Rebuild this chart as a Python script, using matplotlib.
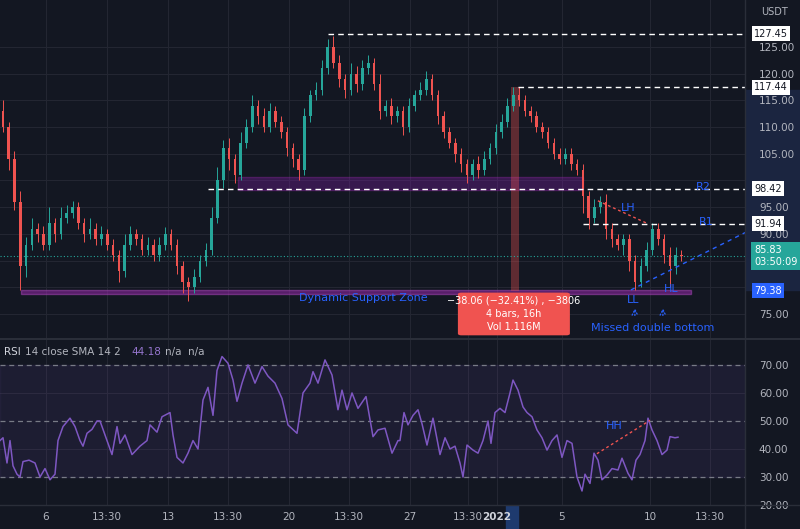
import matplotlib
matplotlib.use("Agg")
import matplotlib.pyplot as plt
from matplotlib.patches import Rectangle, FancyBboxPatch

# ---- data ----
closes = [110,104,96,84,88,91,90,88,92,90,93,94,95,92,90,91,89,90,88,86,
          83,88,90,89,87,88,86,88,90,88,84,81,80,82,85,87,93,100,106,104,
          101,107,110,114,112,110,113,111,109,106,104,102,112,116,117,121,125,122,119,117,
          120,118,121,122,118,113,114,112,113,110,114,116,117,119,116,112,109,107,105,103,
          101,103,102,104,106,109,111,114,116,115,113,112,110,109,107,105,104,105,103,102,
          97,93,95,96,91,89,88,89,85,81,84,87,91,89,86,84,86,85.83]
first_open = 113
upw = [2,1,1.5,2,1.5,2,1,1.5,3,1,2,1.5,1.2,1,1,2,1,1.5,1,1,
       1,2,1.5,1,1,1.5,1,1.5,1.2,1,1,1,1,1.5,1,1.2,2,2.5,1.5,2,
       1,2,1.5,2,1,1.5,1.5,1,1,1,1,1,1.5,1,1.5,1.5,1.45,2,1.5,1,
       2,1.5,1.5,1.5,1,2,1,1.5,1,1,1.5,1,1.5,1.5,1,1,1,1,1,1,
       1,1,1.5,1.5,1,1.5,1.5,1.5,1.44,1.5,1,1,1,1,1,1,1,1,1,1,
       1,1,1.5,1,1.5,1,1,1,1,1,1.5,1.5,1,1,1,1.5,1.5,1]
dnw = [1,2,1.5,4.5,2,1,1.5,1,1,1.5,1,1,1,1,1.5,1,1,1,1,1,
       2,1,1,1,1,1,1,1,1,1,1.5,2,2.5,1,1,1,1,1,1.5,2,
       1.5,1,1,1,1.5,1,1,1,1,1.5,1.5,2,1,1,1,1,1,1,1.5,1.5,
       1,1.5,1,1,1,1.5,1,1.5,1,1.5,1,1,1,1,1,1.5,1,1,1.5,1.5,
       1.5,1,1.5,1,1,1,1,1,1,1,1,1,1,1,1,1,1,1,1,1,
       3,2,1,1,2,1.5,1,2,2,1.6,1,1,1,1,1.5,4,1.5,1]

rsi_px = [0,3,7,10,13,17,20,23,29,35,40,45,50,55,58,63,70,75,80,83,87,92,97,100,107,112,117,120,125,132,
          140,147,150,157,162,170,173,177,183,188,193,198,203,208,213,217,222,228,233,237,242,248,255,262,268,275,282,288,297,303,
          310,313,318,325,332,338,342,347,352,358,366,373,378,385,392,398,400,404,408,413,418,422,427,433,440,445,450,455,460,463,
          467,473,478,483,488,491,495,500,505,510,513,518,523,527,532,537,542,547,552,557,562,567,572,577,582,585,590,594,598,602,
          607,612,618,622,628,632,636,640,645,648,652,657,662,667,670,675,678]
rsi_val = [43,44,35,43,34,31,30,35.5,36,35,30,33,29,31,43,48,51,48,43,41,45.6,47,50,50,43,38,48,42,45,38,
           41,43,48.6,46,51.5,53,45,37,35,38.5,43,40,57.5,62,52,68,73,70.6,64.6,57,63.5,70,63.5,69.4,66,63.5,58,48.6,45.6,60,
           63.5,67.6,63.5,71.8,66.4,54,61,54,60,54.5,58.7,44.4,46.8,47.4,38.5,43,43,53,48.6,52,54,49,41.4,51,38,44,40,41,35,30,
           41.4,39.6,38.5,43,50,42,53,54.5,53,60,64.6,61,55,53,51.5,46.8,44,39.6,43,45,37,43,42,30,25,31,27.7,38.5,36,29,
           30.7,33,32.5,36.7,31.3,29,36,38,43,51,46.8,43,38,39.6,44.4,44,44.2]

price_ticks = [75, 90, 95, 105, 110, 115, 120, 125]
grid_prices = [75, 80, 85, 90, 95, 100, 105, 110, 115, 120, 125]
rsi_ticks = [20, 30, 40, 50, 60, 70]
time_labels = ["6", "13:30", "13", "13:30", "20", "13:30", "27", "13:30", "2022", "5", "10", "13:30"]
time_px = [46, 107, 168, 228, 289, 349, 410, 468, 497, 562, 650, 710]
levels = {"hi": 127.45, "top2": 117.44, "R2": 98.42, "R1": 91.94}
last_price = 85.83
support = 79.38

# ---- style ----
BG = "#131722"
UP, DN = "#26a69a", "#ef5350"
GRID = "#232632"
TXT = "#b2b5be"
W, H = 800, 529
PX = 5.8  # px per bar
FS = 7

fig = plt.figure(figsize=(8, 5.29), dpi=100, facecolor=BG)
def fa(x0, y0, x1, y1):
    return [x0 / W, 1 - y1 / H, (x1 - x0) / W, (y1 - y0) / H]

fig.patches.append(Rectangle((745 / W, 1 - 290 / H), 55 / W, 200 / H, transform=fig.transFigure,
                             color="#1b2540", zorder=-5))
fig.patches.append(Rectangle((506 / W, 0), 12 / W, 24 / H, transform=fig.transFigure,
                             color="#1e3a6e", zorder=-5))

ax = fig.add_axes(fa(0, 0, 745, 338))
rx = fig.add_axes(fa(0, 340, 745, 505), sharex=ax)
for a in (ax, rx):
    a.set_facecolor(BG)
    for s in a.spines.values():
        s.set_visible(False)
xmax = 745 / PX
ax.set_xlim(-0.5, xmax - 0.5)
ax.set_ylim(70.5, 133.8)
rx.set_ylim(20, 78.9)

tx = [(p / PX) - 0.5 for p in time_px]
for a in (ax, rx):
    for t in tx:
        a.axvline(t, color=GRID, lw=0.8, zorder=0)
for p in grid_prices:
    ax.axhline(p, color=GRID, lw=0.8, zorder=0)
for p in [40, 60]:
    rx.axhline(p, color=GRID, lw=0.8, zorder=0)

ax.yaxis.tick_right()
ax.set_yticks(price_ticks)
ax.set_yticklabels([f"{p:.2f}" for p in price_ticks])
rx.yaxis.tick_right()
rx.set_yticks(rsi_ticks)
rx.set_yticklabels([f"{p:.2f}" for p in rsi_ticks])
for a in (ax, rx):
    a.tick_params(axis="y", length=0, colors=TXT, labelsize=FS + 0.5, pad=10)
    a.tick_params(axis="x", length=0, labelbottom=False)
rx.set_xticks(tx)
rx.set_xticklabels(time_labels)
rx.tick_params(axis="x", labelbottom=True, colors=TXT, labelsize=FS + 0.5, pad=5)
for lbl in rx.get_xticklabels():
    if lbl.get_text() == "2022":
        lbl.set_fontweight("bold")
        lbl.set_color("#d1d4dc")

fig.lines.append(plt.Line2D([745 / W, 745 / W], [0, 1], transform=fig.transFigure, color="#2a2e39", lw=1))
fig.lines.append(plt.Line2D([0, 1], [1 - 339 / H] * 2, transform=fig.transFigure, color="#2a2e39", lw=1.5))
fig.lines.append(plt.Line2D([0, 1], [24 / H] * 2, transform=fig.transFigure, color="#2a2e39", lw=1))

# zones
ax.add_patch(Rectangle((235 / PX, 98.3), (580 - 235) / PX, 2.4, facecolor="#7b1fa2", alpha=0.35,
                       edgecolor="#9c27b0", lw=1, zorder=1))
ax.add_patch(Rectangle((18 / PX, 78.8), (688 - 18) / PX, 0.7, facecolor="#9c27b0", alpha=0.5,
                       edgecolor="#ab47bc", lw=1, zorder=1))
# measurement
ax.add_patch(Rectangle((508 / PX, support), 8 / PX, levels["top2"] - support, facecolor=DN, alpha=0.35,
                       edgecolor="none", zorder=1))

# candles
opens = [first_open] + closes[:-1]
for i, (o, c) in enumerate(zip(opens, closes)):
    col = UP if c >= o else DN
    hi = max(o, c) + upw[i]
    lo = min(o, c) - dnw[i]
    ax.vlines(i, lo, hi, color=col, lw=0.7, zorder=3)
    ax.add_patch(Rectangle((i - 0.22, min(o, c)), 0.44, max(abs(c - o), 0.15), color=col, zorder=3, lw=0))

# level lines
ax.hlines(levels["hi"], 325 / PX, xmax, colors="white", linestyles=(0, (4, 3)), lw=1, zorder=4)
ax.hlines(levels["top2"], 515 / PX, xmax, colors="white", linestyles=(0, (4, 3)), lw=1, zorder=4)
ax.hlines(levels["R2"], 205 / PX, xmax, colors="white", linestyles=(0, (4, 3)), lw=1, zorder=4)
ax.hlines(levels["R1"], 580 / PX, xmax, colors="white", linestyles=(0, (4, 3)), lw=1, zorder=4)
ax.axhline(last_price, color=UP, ls=(0, (1, 2)), lw=0.8, zorder=2)
ax.plot([595 / PX, 645 / PX], [96.2, 91.9], color=DN, ls=(0, (2, 2)), lw=1, zorder=4)
ax.plot([628 / PX, xmax], [79.5, 90.5], color="#2962ff", ls=(0, (3, 3)), lw=1, zorder=4)

blue = "#2962ff"
ax.text(360 / PX, 78.0, "Dynamic Support Zone", color=blue, fontsize=8, ha="center", va="center", zorder=5)
ax.text(625 / PX, 94.9, "LH", color=blue, fontsize=8, ha="center", va="center", zorder=5)
ax.text(700 / PX, 98.8, "R2", color=blue, fontsize=8, ha="center", va="center", zorder=5)
ax.text(703 / PX, 92.3, "R1", color=blue, fontsize=8, ha="center", va="center", zorder=5)
ax.text(630 / PX, 77.6, "LL", color=blue, fontsize=8, ha="center", va="center", zorder=5)
ax.text(668 / PX, 79.6, "HL", color=blue, fontsize=8, ha="center", va="center", zorder=5)
ax.text(650 / PX, 72.3, "Missed double bottom", color=blue, fontsize=8, ha="center", va="center", zorder=5)
for xp in (632, 660):
    ax.annotate("", xy=(xp / PX, 76.6), xytext=(xp / PX, 74.2),
                arrowprops=dict(arrowstyle="->", color=blue, ls=":", lw=0.9), zorder=5)

# measurement label box
ax.add_patch(FancyBboxPatch((455 / PX, 71.0), (567 - 455) / PX, 8.0, boxstyle="round,pad=0,rounding_size=0.6",
                            facecolor="#f05350", edgecolor="none", zorder=6, mutation_aspect=0.5))
ax.text(511 / PX, 77.6, "\u221238.06 (\u221232.41%) , \u22123806", color="white", fontsize=7, ha="center", va="center", zorder=7)
ax.text(511 / PX, 75.0, "4 bars, 16h", color="white", fontsize=7, ha="center", va="center", zorder=7)
ax.text(511 / PX, 72.5, "Vol 1.116M", color="white", fontsize=7, ha="center", va="center", zorder=7)

# axis labels (price boxes)
def plabel(a, val, text, fc, tc):
    a.text(1.012, val, text, transform=a.get_yaxis_transform(), color=tc, fontsize=FS,
           ha="left", va="center", zorder=8, clip_on=False,
           bbox=dict(boxstyle="square,pad=0.25", facecolor=fc, edgecolor="none"))
for v in levels.values():
    plabel(ax, v, f"{v:.2f}", "white", "#131722")
plabel(ax, support, f"{support:.2f}", "#2962ff", "white")
ax.text(1.012, last_price, f"{last_price:.2f}\n03:50:09", transform=ax.get_yaxis_transform(), color="white",
        fontsize=FS, ha="left", va="center", zorder=8, clip_on=False, linespacing=1.2,
        bbox=dict(boxstyle="square,pad=0.3", facecolor=UP, edgecolor="none"))
fig.text(775 / W, 1 - 12 / H, "USDT", color=TXT, fontsize=7, ha="center", va="center")

# RSI panel
rx.axhspan(30, 70, color="#7e57c2", alpha=0.1, zorder=0)
for v in (30, 50, 70):
    rx.axhline(v, color="#787b86", ls=(0, (4, 3)), lw=0.9, zorder=1)
rsi_t = [p / PX - 0.5 for p in rsi_px]
rx.plot(rsi_t, rsi_val, color="#7e57c2", lw=1.1, zorder=3)
rx.plot([594 / PX, 647 / PX], [38.3, 50.2], color=DN, ls=(0, (2, 2)), lw=1, zorder=4)
rx.text(611 / PX, 48.2, "HH", color=blue, fontsize=8, ha="center", va="center")
rx.text(0.006, 0.93, "RSI", transform=rx.transAxes, color="#d1d4dc", fontsize=7.5, va="center")
rx.text(0.033, 0.93, "14 close SMA 14 2", transform=rx.transAxes, color=TXT, fontsize=7.5, va="center")
rx.text(0.176, 0.93, "44.18", transform=rx.transAxes, color="#9575cd", fontsize=7.5, va="center")
rx.text(0.222, 0.93, "n/a  n/a", transform=rx.transAxes, color=TXT, fontsize=7.5, va="center")

fig.savefig("out.png", dpi=100, facecolor=BG)
